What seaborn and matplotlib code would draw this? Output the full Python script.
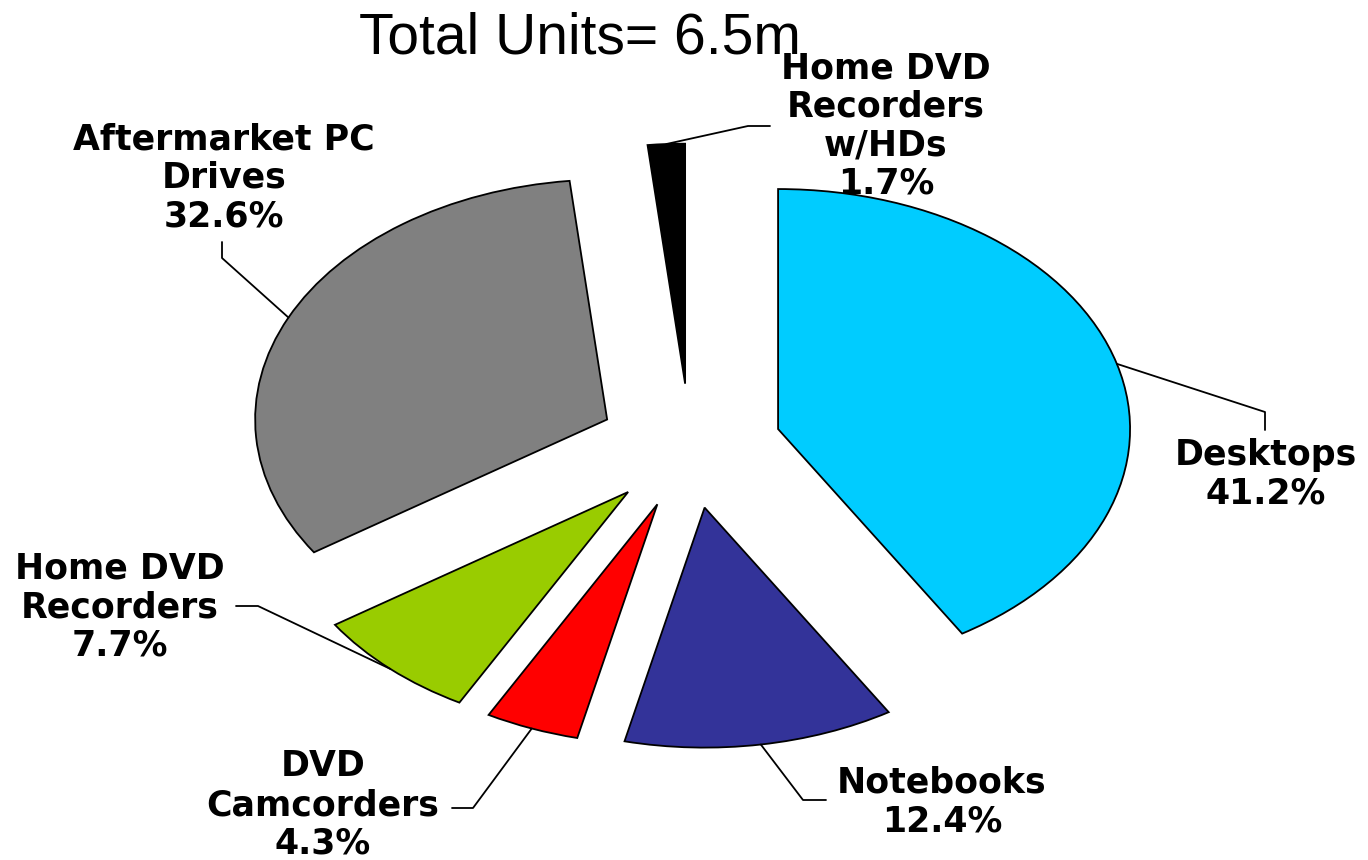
import numpy as np
import matplotlib
matplotlib.use("Agg")
import matplotlib.pyplot as plt
import seaborn as sns

sns.set_theme(style="white")

categories = ["Desktops", "Notebooks", "DVD\nCamcorders", "Home DVD\nRecorders",
              "Aftermarket PC\nDrives", "Home DVD\nRecorders\nw/HDs"]
shares = [41.2, 12.4, 4.3, 7.7, 32.6, 1.7]
colors = ["#00CCFF", "#333399", "#FF0000", "#99CC00", "#808080", "#000000"]

# label centres and leader-line elbows, in picture pixels (x, y from top)
label_pos = [(1266, 474), (942, 802), (323, 805), (120, 607), (224, 178), (886, 126)]
elbows = [[(1265, 412), (1265, 430)], [(803, 800), (826, 800)], [(473, 808), (452, 808)],
          [(258, 606), (236, 606)], [(222, 258), (222, 242)], [(748, 126), (770, 126)]]

W, H = 1368, 860
CX, CY, RX, RY = 690, 446, 352, 240


def px(x, y):
    return (x - CX) / RX, (CY - y) / RY


fig = plt.figure(figsize=(W / 100, H / 100), dpi=100)
ax = fig.add_axes([0, 0, 1, 1])
wedges, _ = ax.pie(shares, colors=colors, startangle=90, counterclock=False,
                   explode=[0.26] * len(shares),
                   wedgeprops=dict(edgecolor="black", linewidth=1.3))
ax.set_aspect("auto")
ax.set_xlim(px(0, 0)[0], px(W, 0)[0])
ax.set_ylim(px(0, H)[1], px(0, 0)[1])
ax.axis("off")

for w, cat, val, lp, elb in zip(wedges, categories, shares, label_pos, elbows):
    mid = np.deg2rad((w.theta1 + w.theta2) / 2)
    x0 = w.center[0] + w.r * np.cos(mid)
    y0 = w.center[1] + w.r * np.sin(mid)
    pts = [(x0, y0)] + [px(*p) for p in elb]
    ax.plot([p[0] for p in pts], [p[1] for p in pts], color="black", lw=1.3)
    tx, ty = px(*lp)
    ax.text(tx, ty, f"{cat}\n{val}%", ha="center", va="center", multialignment="center",
            fontsize=25, fontweight="bold", family=["DejaVu Sans"], linespacing=1.17,
            color="black")

fig.text(580 / W, 1 - 38 / H, "Total Units= 6.5m", ha="center", va="center",
         fontsize=41, color="black",
         family=["Liberation Sans Narrow", "Liberation Sans", "DejaVu Sans"])

fig.savefig("out.png", dpi=100, facecolor="white")
